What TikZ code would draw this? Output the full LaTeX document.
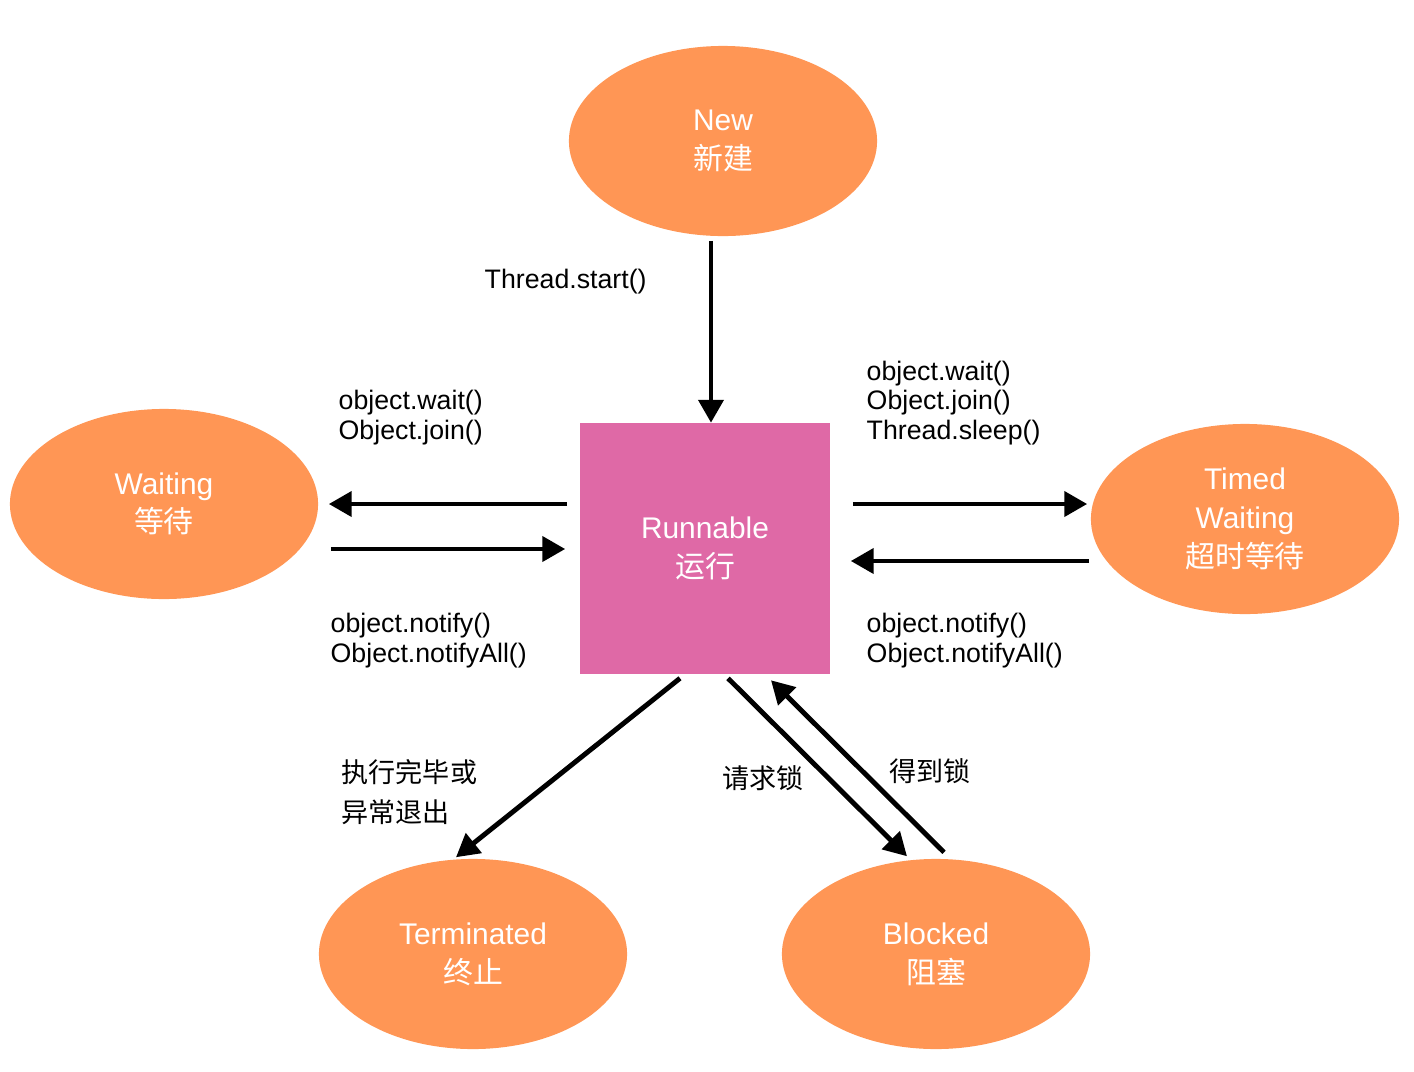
\documentclass[tikz,border=0pt]{standalone}
\usepackage{fontspec}
\setmainfont{Liberation Sans}
\newfontfamily\cjk{Noto Sans CJK SC}
\usetikzlibrary{arrows.meta, shapes.geometric, calc}
\definecolor{stateorange}{RGB}{255,150,85}
\definecolor{runpink}{RGB}{223,105,166}

\begin{document}
\begin{tikzpicture}[
  x=0.01cm, y=-0.01cm,
  state/.style={ellipse, fill=stateorange, minimum width=3.08cm, minimum height=1.9cm, inner sep=0pt, text=white, align=center, font=\fontsize{8.5}{11}\selectfont},
  running/.style={rectangle, fill=runpink, minimum size=2.5cm, inner sep=0pt, text=white, align=center, font=\fontsize{8.5}{11}\selectfont},
  call/.style={anchor=west, align=left, inner sep=0pt, font=\fontsize{7.6}{8.5}\selectfont},
  cjklabel/.style={anchor=west, align=left, inner sep=0pt, font=\cjk\fontsize{7.7}{11.4}\selectfont},
  arrow/.style={-{Triangle[length=6.5pt, width=7pt]}, line width=1.4pt}
]
  \useasboundingbox (0,0) rectangle (1414,1072);

  % states
  \node[state] (new) at (723,141) {New\\{\cjk 新建}};
  \node[running] (run) at (705,548.5) {Runnable\\{\cjk 运行}};
  \node[state] (wait) at (164,504) {Waiting\\{\cjk 等待}};
  \node[state] (timed) at (1245,519) {Timed\\Waiting\\{\cjk 超时等待}};
  \node[state] (term) at (473,954) {Terminated\\{\cjk 终止}};
  \node[state] (blk) at (936,954) {Blocked\\{\cjk 阻塞}};

  % transitions
  \draw[arrow] ($(new.south)+(-12,4)$) -- ($(run.north)+(6,0)$);
  \draw[arrow] ($(run.west)+(-12,-44.5)$) -- ($(wait.east)+(10,0)$);
  \draw[arrow] ($(wait.east)+(12,45)$) -- ($(run.west)+(-14,0.5)$);
  \draw[arrow] ($(run.east)+(22,-44.5)$) -- ($(timed.west)+(-3,-15)$);
  \draw[arrow] ($(timed.west)+(-1,42)$) -- ($(run.east)+(20,12.5)$);
  \draw[arrow] ($(run.south)+(-25,4)$) -- ($(term.north)+(-17,-1)$);
  \draw[arrow] ($(run.south)+(23,4)$) -- ($(blk.north)+(-29,-2)$);
  \draw[arrow] ($(blk.north)+(8,-6)$) -- ($(run.south)+(66,6)$);

  % labels
  \node[call] (start_label) at (484,282) {Thread.start()};
  \node[call] (wait_label) at (338,418) {object.wait()\\Object.join()};
  \node[call] (timed_label) at (866,403) {object.wait()\\Object.join()\\Thread.sleep()};
  \node[call] (notify_label) at (330,641) {object.notify()\\Object.notifyAll()};
  \node[call] (tnotify_label) at (866,641) {object.notify()\\Object.notifyAll()};
  \node[cjklabel] (end_label) at (341,792) {执行完毕或\\异常退出};
  \node[cjklabel] (ask_label) at (722,778) {请求锁};
  \node[cjklabel] (got_label) at (889,771) {得到锁};
\end{tikzpicture}
\end{document}
